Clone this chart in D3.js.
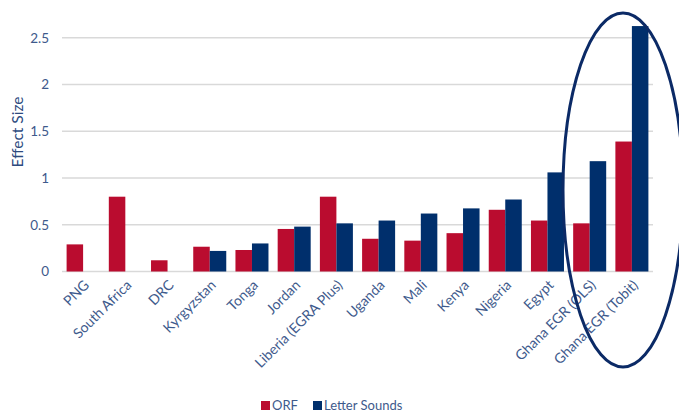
<!DOCTYPE html>
<html><head><meta charset="utf-8">
<script src="https://cdn.jsdelivr.net/npm/d3@7"></script>
<style>body{margin:0;background:#fff;}svg{display:block;font-family:Lato,"Open Sans",sans-serif;}</style>
</head><body><svg id="c" width="679" height="413"></svg>
<script>
const categories = ["PNG","South Africa","DRC","Kyrgyzstan","Tonga","Jordan","Liberia (EGRA Plus)","Uganda","Mali","Kenya","Nigeria","Egypt","Ghana EGR (OLS)","Ghana EGR (Tobit)"];
const orf = [0.29,0.80,0.12,0.265,0.23,0.455,0.80,0.35,0.33,0.41,0.66,0.545,0.515,1.39];
const letterSounds = [null,null,null,0.22,0.30,0.48,0.515,0.545,0.62,0.675,0.77,1.06,1.18,2.625];
const yTicks = [0,0.5,1,1.5,2,2.5];
const seriesNames = ["ORF","Letter Sounds"];
const colors = ["#BA0C2F","#002F6C"];

const svg = d3.select("#c");
const x0 = d3.scaleBand().domain(categories).range([62,653]).paddingInner(0).paddingOuter(0);
const x1 = d3.scaleBand().domain(seriesNames).range([4.6, x0.bandwidth()-4.6]);
const y = d3.scaleLinear().domain([0,2.5]).range([271.5,37.75]);

// gridlines
svg.append("g").selectAll("line").data(yTicks).join("line")
  .attr("x1",62).attr("x2",653).attr("y1",d=>y(d)).attr("y2",d=>y(d))
  .attr("stroke","#d9d9d9").attr("stroke-width",1.3);

// y axis labels
const yAxis = d3.axisLeft(y).tickValues(yTicks).tickFormat(d=>d).tickSize(0).tickPadding(0);
const ga = svg.append("g").attr("transform","translate(49,0)").call(yAxis);
ga.select(".domain").remove();
ga.selectAll("text").attr("fill","#3E5A8C").attr("font-size",13.5).attr("font-family","Lato, sans-serif");

svg.append("text").attr("transform","translate(23,132) rotate(-90)")
  .attr("text-anchor","middle").attr("fill","#2D4A7E").attr("font-size",15.5).text("Effect Size");

// bars
const series = [orf, letterSounds];
categories.forEach((c,i)=>{
  series.forEach((s,j)=>{
    const v = s[i];
    if (v==null) return;
    svg.append("rect")
      .attr("x", x0(c)+x1(seriesNames[j]))
      .attr("width", x1.bandwidth())
      .attr("y", y(v)).attr("height", y(0)-y(v))
      .attr("fill", colors[j]);
  });
});

// x axis labels
const xg = svg.append("g");
categories.forEach(c=>{
  const cx = x0(c)+x0.bandwidth()/2;
  xg.append("text").attr("transform",`translate(${cx+7},${286}) rotate(-45)`)
    .attr("text-anchor","end").attr("fill","#3E5A8C").attr("font-size",14).text(c);
});

// ellipse
svg.append("ellipse").attr("cx",623).attr("cy",190).attr("rx",60).attr("ry",177)
  .attr("fill","none").attr("stroke","#0B2A66").attr("stroke-width",3);

// legend
const leg = svg.append("g");
const legItems = [{n:"ORF",x:261,c:colors[0]},{n:"Letter Sounds",x:313,c:colors[1]}];
legItems.forEach(d=>{
  leg.append("rect").attr("x",d.x).attr("y",401).attr("width",9).attr("height",9).attr("fill",d.c);
  leg.append("text").attr("x",d.x+11).attr("y",410).attr("fill","#3E5A8C").attr("font-size",13).text(d.n);
});
</script></body></html>
